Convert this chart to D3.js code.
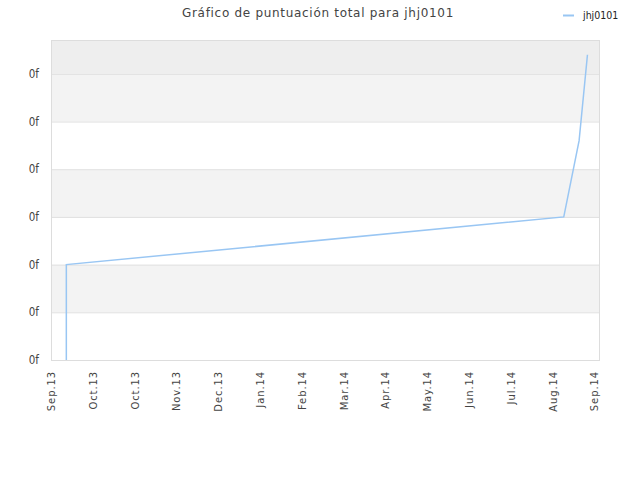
<!DOCTYPE html>
<html>
<head>
<meta charset="utf-8">
<script src="https://cdn.jsdelivr.net/npm/d3@7"></script>
<style>
  body { margin: 0; background: #fff; }
  text { font-family: "DejaVu Sans", sans-serif; }
</style>
</head>
<body>
<div id="chart_div"></div>
<script>
// chart data
var titleText = 'Gráfico de puntuación total para jhj0101';
var seriesName = 'jhj0101';
var pointDates = ['2013-09-12', '2013-09-12', '2014-09-04', '2014-09-15', '2014-09-21'];
var pointValues = [0, 2, 3, 4.6, 6.4];
var yTickValues = [0, 1, 2, 3, 4, 5, 6];
var yTickLabels = ['0f', '0f', '0f', '0f', '0f', '0f', '0f'];
var xTickDates = ['2013-09-01', '2013-10-01', '2013-10-31', '2013-11-30', '2013-12-30',
  '2014-01-29', '2014-02-28', '2014-03-30', '2014-04-29', '2014-05-29',
  '2014-06-28', '2014-07-28', '2014-08-27', '2014-09-26'];
var xTickLabels = ['Sep.13', 'Oct.13', 'Oct.13', 'Nov.13', 'Dec.13', 'Jan.14', 'Feb.14',
  'Mar.14', 'Apr.14', 'May.14', 'Jun.14', 'Jul.14', 'Aug.14', 'Sep.14'];

var svg_width = 640,
  svg_height = 480,
  plot_left = 51,
  plot_right = 600,
  plot_top = 40,
  plot_bottom = 360;

var parseDate = d3.timeParse('%Y-%m-%d');

var svg = d3.select('#chart_div')
  .append('svg')
  .attr('width', svg_width)
  .attr('height', svg_height);

var x = d3.scaleTime()
  .domain([parseDate('2013-09-01'), parseDate('2014-09-30')])
  .range([plot_left, plot_right]);

var y = d3.scaleLinear()
  .domain([0, 6.71])
  .range([plot_bottom, plot_top]);

// background bands between gridlines
var bandEdges = yTickValues.concat([y.domain()[1]]);
var bands = [];
for (var i = 0; i < bandEdges.length - 1; i++) {
  bands.push({lo: bandEdges[i], hi: bandEdges[i + 1], i: i});
}
svg.append('g').selectAll('rect')
  .data(bands)
  .enter().append('rect')
  .attr('x', plot_left)
  .attr('width', plot_right - plot_left)
  .attr('y', function (d) { return y(d.hi); })
  .attr('height', function (d) { return y(d.lo) - y(d.hi); })
  .attr('fill', function (d) {
    if (d.i == bands.length - 1) return '#eeeeee';
    return d.i % 2 == 1 ? '#f3f3f3' : '#ffffff';
  });

// horizontal gridlines + y labels
var yAxis = d3.axisLeft(y)
  .tickValues(yTickValues)
  .tickSize(-(plot_right - plot_left))
  .tickPadding(12)
  .tickFormat(function (d, i) { return yTickLabels[i]; });

var yg = svg.append('g')
  .attr('transform', 'translate(' + plot_left + ',0)')
  .call(yAxis);
yg.select('.domain').remove();
yg.selectAll('line').attr('stroke', '#e0e0e0');
yg.selectAll('text')
  .attr('fill', '#444')
  .style('font-family', '"DejaVu Sans Condensed", "DejaVu Sans", sans-serif')
  .style('font-size', '11.5px');

// plot border
svg.append('rect')
  .attr('x', plot_left + 0.5)
  .attr('y', plot_top + 0.5)
  .attr('width', plot_right - plot_left - 1)
  .attr('height', plot_bottom - plot_top)
  .attr('fill', 'none')
  .attr('stroke', '#dddddd');

// x axis, rotated labels
var xAxis = d3.axisBottom(x)
  .tickValues(xTickDates.map(parseDate))
  .tickSize(0)
  .tickFormat(function (d, i) { return xTickLabels[i]; });

var xg = svg.append('g')
  .attr('transform', 'translate(0,' + plot_bottom + ')')
  .call(xAxis);
xg.select('.domain').remove();
xg.selectAll('text')
  .attr('transform', 'rotate(-90)')
  .attr('text-anchor', 'end')
  .attr('x', -11)
  .attr('y', 0)
  .attr('dy', '0.35em')
  .attr('fill', '#444')
  .style('font-size', '10px')
  .style('letter-spacing', '0.9px');

// the series
var points = pointDates.map(function (d, i) {
  return {date: parseDate(d), value: pointValues[i]};
});

var line = d3.line()
  .x(function (d) { return x(d.date); })
  .y(function (d) { return y(d.value); });

svg.append('path')
  .datum(points)
  .attr('d', line)
  .attr('fill', 'none')
  .attr('stroke', '#99c6f3')
  .attr('stroke-width', 1.5);

// title
svg.append('text')
  .attr('x', 318)
  .attr('y', 17)
  .attr('text-anchor', 'middle')
  .attr('fill', '#444')
  .style('font-size', '12px')
  .style('letter-spacing', '0.7px')
  .text(titleText);

// legend
var legend = svg.append('g').classed('legend', true);
legend.append('line')
  .attr('x1', 563).attr('x2', 574)
  .attr('y1', 15.5).attr('y2', 15.5)
  .attr('stroke', '#99c6f3')
  .attr('stroke-width', 2);
legend.append('text')
  .attr('x', 583)
  .attr('y', 15)
  .attr('dy', '0.35em')
  .attr('fill', '#222')
  .style('font-family', '"DejaVu Sans Condensed", "DejaVu Sans", sans-serif')
  .style('font-size', '10.5px')
  .text(seriesName);
</script>
</body>
</html>
